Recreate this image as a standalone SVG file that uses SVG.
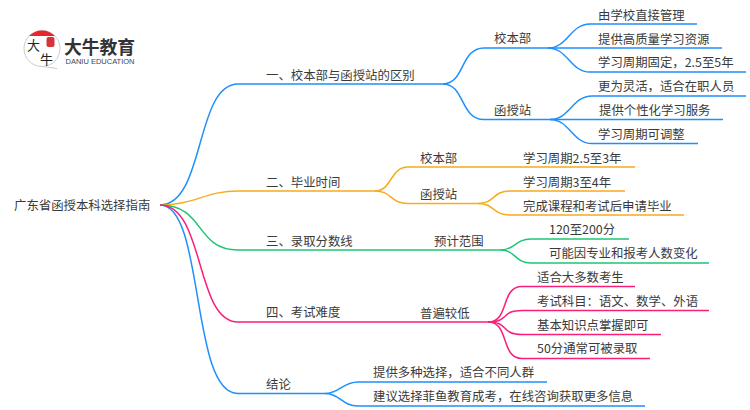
<svg xmlns="http://www.w3.org/2000/svg" width="750" height="410" viewBox="0 0 750 410">
<style>
text{font-family:"Noto Sans CJK SC","Liberation Sans",sans-serif;font-size:12.400px;fill:#3a3a3a}
.c{fill:none;stroke-width:1.5}
.b{stroke:#1f8ffb}.o{stroke:#f9ab1c}.g{stroke:#1cc676}.p{stroke:#fb1f78}
</style>
<rect width="750" height="410" fill="#fff"/>
<g id="connectors">
<g class="c b">
<path d="M160 205C205 205 195 84 238 84H443"/>
<path d="M443 84C465 84 460 48 484 48H548"/>
<path d="M443 84C465 84 460 119.500 484 119.500H550"/>
<path d="M548 48C568 48 570 24 590 24H697"/>
<path d="M548 48H722"/>
<path d="M548 48C568 48 570 72 590 72H746"/>
<path d="M550 119.500C570 119.500 572 96 592 96H746"/>
<path d="M550 119.500H723"/>
<path d="M550 119.500C570 119.500 572 143.500 592 143.500H698"/>
<path d="M160 205C205 205 190 393.500 238 393.500H325"/>
<path d="M325 393.500C340 393.500 342 382 358 382H547"/>
<path d="M325 393.500C340 393.500 342 406 358 406H645"/>
</g>
<g class="c o">
<path d="M160 205C195 205 205 191 238 191H375"/>
<path d="M375 191C392 191 390 167 408 167H635"/>
<path d="M375 191C392 191 390 203.500 408 203.500H478"/>
<path d="M478 203.500C495 203.500 492 191 510 191H625"/>
<path d="M478 203.500C495 203.500 492 215 510 215H684"/>
</g>
<g class="c g">
<path d="M160 205C205 205 195 250 238 250H501"/>
<path d="M501 250C515 250 515 239 531 239H629"/>
<path d="M501 250C515 250 515 263 531 263H709"/>
</g>
<g class="c p">
<path d="M160 205C205 205 195 322 238 322H488"/>
<path d="M488 322C510 322 500 286.500 522 286.500H635"/>
<path d="M488 322C510 322 500 310.500 522 310.500H709"/>
<path d="M488 322C510 322 500 334.500 522 334.500H661"/>
<path d="M488 322C510 322 500 358.500 522 358.500H650"/>
</g>
</g>
<g id="logo">
<path d="M43 66.500L57 68.500" fill="none" stroke="#ccc"/>
<circle cx="42" cy="48.500" r="18" fill="#fff" stroke="#ccc"/>
<path d="M29 36A18 18 0 0 1 55 36Z" fill="#e8262a"/>
<rect x="46.500" y="37" width="8" height="10" rx="2" fill="#d5353a"/>
<text x="27" y="50" style="font-size:13px;fill:#222">大</text>
<text x="40" y="64" style="font-size:13px;fill:#222">牛</text>
<text x="64" y="53.500" style="font-size:17.800px;font-weight:700;fill:#333">大牛教育</text>
<text x="65.500" y="63.500" style="font-family:'Liberation Sans',sans-serif;font-size:7.500px;fill:#444">DANIU EDUCATION</text>
</g>
<g id="root"><text x="14" y="210">广东省函授本科选择指南</text></g>
<g id="n1"><text x="266" y="80">一、校本部与函授站的区别</text></g>
<g id="n2"><text x="266" y="187">二、毕业时间</text></g>
<g id="n3"><text x="266" y="246">三、录取分数线</text></g>
<g id="n4"><text x="266" y="317">四、考试难度</text></g>
<g id="n5"><text x="266" y="389">结论</text></g>
<g id="n11"><text x="494" y="43">校本部</text></g>
<g id="n12"><text x="494" y="115">函授站</text></g>
<g id="n111"><text x="598" y="20">由学校直接管理</text></g>
<g id="n112"><text x="598" y="44">提供高质量学习资源</text></g>
<g id="n113"><text x="598" y="67">学习周期固定，2.5至5年</text></g>
<g id="n121"><text x="598" y="91">更为灵活，适合在职人员</text></g>
<g id="n122"><text x="599" y="115">提供个性化学习服务</text></g>
<g id="n123"><text x="598" y="139">学习周期可调整</text></g>
<g id="n21"><text x="420" y="163">校本部</text></g>
<g id="n22"><text x="420" y="199">函授站</text></g>
<g id="n211"><text x="523" y="163">学习周期2.5至3年</text></g>
<g id="n221"><text x="523" y="187">学习周期3至4年</text></g>
<g id="n222"><text x="523" y="211">完成课程和考试后申请毕业</text></g>
<g id="n31"><text x="434" y="246">预计范围</text></g>
<g id="n311"><text x="549" y="234">120至200分</text></g>
<g id="n312"><text x="549" y="258">可能因专业和报考人数变化</text></g>
<g id="n41"><text x="420" y="318">普遍较低</text></g>
<g id="n411"><text x="537" y="282">适合大多数考生</text></g>
<g id="n412"><text x="537" y="306">考试科目：语文、数学、外语</text></g>
<g id="n413"><text x="537" y="330">基本知识点掌握即可</text></g>
<g id="n414"><text x="537" y="353">50分通常可被录取</text></g>
<g id="n51"><text x="373" y="377">提供多种选择，适合不同人群</text></g>
<g id="n52"><text x="373" y="401">建议选择菲鱼教育成考，在线咨询获取更多信息</text></g>
</svg>
